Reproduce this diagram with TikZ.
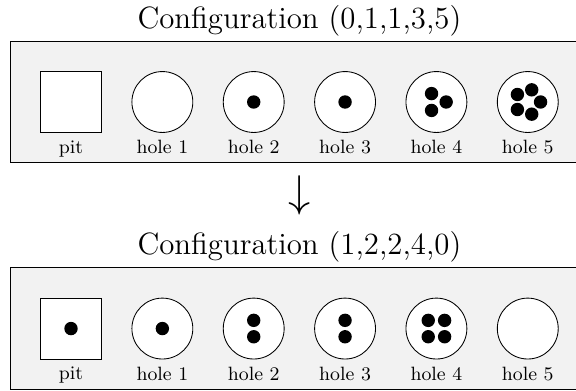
\documentclass[tikz,border=0pt]{standalone}

% stones in a hole: #1 = node, #2 = how many
\newcommand{\seeds}[2]{%
  \ifcase#2 \or
    \fill (#1) circle (0.11);
  \or
    \foreach \a in {90,270} \fill (#1) ++(\a:0.135) circle (0.11);
  \or
    \foreach \a in {0,120,240} \fill (#1) ++(\a:0.16) circle (0.11);
  \or
    \foreach \a in {45,135,225,315} \fill (#1) ++(\a:0.19) circle (0.11);
  \or
    \foreach \a in {0,72,...,288} \fill (#1) ++(\a:0.21) circle (0.11);
  \fi}

\begin{document}
\begin{tikzpicture}[>=latex,
    board/.style={draw,fill=gray!10},
    pit/.style={rectangle,draw,fill=white,minimum size=1cm,inner sep=0pt},
    hole/.style={circle,draw,fill=white,minimum size=1cm,inner sep=0pt},
    tag/.style={font=\small}]
    \useasboundingbox (-1.166,-4.735) rectangle (8.292,1.675);
    \clip (-1.166,-4.735) rectangle (8.292,1.675);

    % before the move
    \node [font=\Large,anchor=base] (confA) at (3.75,1.215) {Configuration (0,1,1,3,5)};
    \draw [board] (-1,-1) rectangle (8.5,1);
    \node [pit,label={[tag]below:pit}] (pitA) at (0,0) {};
    \foreach \n [count=\i] in {0,1,1,3,5} {
        \node [hole,label={[tag]below:hole \i}] (holeA\i) at (1.5*\i,0) {};
        \seeds{holeA\i}{\n}
    }

    \node [font=\fontsize{19.5}{24}\selectfont,anchor=base] (move) at (3.75,-1.722) {$\downarrow$};

    % after the move
    \node [font=\Large,anchor=base] (confB) at (3.75,-2.505) {Configuration (1,2,2,4,0)};
    \draw [board] (-1,-4.72) rectangle (8.5,-2.72);
    \node [pit,label={[tag]below:pit}] (pitB) at (0,-3.72) {};
    \seeds{pitB}{1}
    \foreach \n [count=\i] in {1,2,2,4,0} {
        \node [hole,label={[tag]below:hole \i}] (holeB\i) at (1.5*\i,-3.72) {};
        \seeds{holeB\i}{\n}
    }
\end{tikzpicture}
\end{document}
